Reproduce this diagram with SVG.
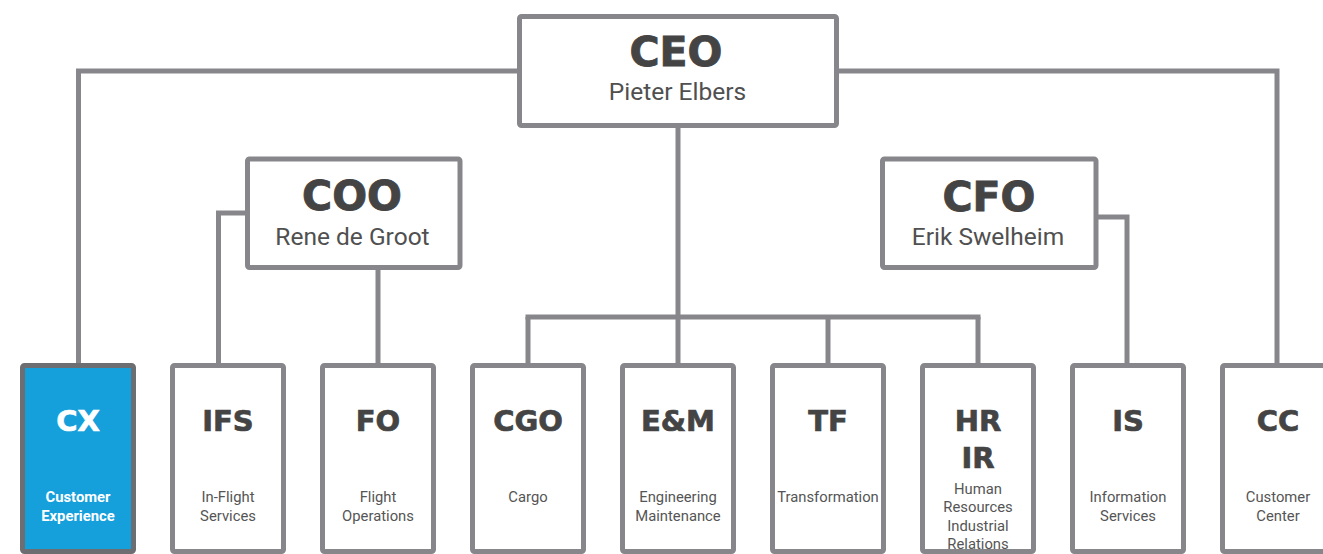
<svg xmlns="http://www.w3.org/2000/svg" width="1323" height="554" viewBox="0 0 1323 554">
<style>
.box{fill:#ffffff;stroke:#87878b;stroke-width:5}
.conn{fill:none;stroke:#87878b;stroke-width:5;stroke-linejoin:miter}
.h1{font-family:"DejaVu Sans",sans-serif;font-weight:bold;font-size:41px;fill:#444444;stroke:#444444;stroke-width:0.9;text-anchor:middle}
.h2{font-family:"DejaVu Sans",sans-serif;font-weight:bold;font-size:29px;fill:#444444;stroke:#444444;stroke-width:0.7;text-anchor:middle}
.s1{font-family:Roboto,"Liberation Sans",sans-serif;font-size:24.5px;fill:#505050;text-anchor:middle}
.s2{font-family:Roboto,"Liberation Sans",sans-serif;font-size:14.8px;fill:#555555;text-anchor:middle}
.w{fill:#ffffff;stroke:#ffffff}
.wt{fill:#ffffff}
.b{font-weight:bold}
</style>
<rect width="1323" height="554" fill="#ffffff"/>
<g id="connectors">
<polyline class="conn" points="519,71 78.5,71 78.5,366"/>
<polyline class="conn" points="837,71 1277,71 1277,366"/>
<line class="conn" x1="678" y1="126" x2="678" y2="366"/>
<line class="conn" x1="525.5" y1="317" x2="980.5" y2="317"/>
<line class="conn" x1="528" y1="317" x2="528" y2="366"/>
<line class="conn" x1="828" y1="317" x2="828" y2="366"/>
<line class="conn" x1="978" y1="317" x2="978" y2="366"/>
<polyline class="conn" points="248,213 218.5,213 218.5,366"/>
<line class="conn" x1="378" y1="267" x2="378" y2="366"/>
<polyline class="conn" points="1096,217 1127,217 1127,366"/>
</g>
<g id="ceo">
<rect class="box" x="519.5" y="16.5" width="317" height="109" rx="2"/>
<text class="h1" x="676" y="66">CEO</text>
<text class="s1" x="677.5" y="100">Pieter Elbers</text>
</g>
<g id="coo">
<rect class="box" x="247.5" y="159" width="212.5" height="108.5" rx="2"/>
<text class="h1" x="352" y="210">COO</text>
<text class="s1" x="352.5" y="245">Rene de Groot</text>
</g>
<g id="cfo">
<rect class="box" x="882.5" y="159" width="213.5" height="108.5" rx="2"/>
<text class="h1" x="989" y="211">CFO</text>
<text class="s1" x="988" y="245">Erik Swelheim</text>
</g>
<g id="cx">
<rect x="22.5" y="365.5" width="111" height="186" rx="2" fill="#15a0db" stroke="#6d6e71" stroke-width="5"/>
<text class="h2 w" x="78" y="431">CX</text>
<text class="s2 wt b" x="78" y="501.5">Customer</text>
<text class="s2 wt b" x="78" y="520.5">Experience</text>
</g>
<g id="ifs">
<rect class="box" x="172.5" y="365.5" width="111" height="186" rx="2"/>
<text class="h2" x="228" y="431">IFS</text>
<text class="s2" x="228" y="501.5">In-Flight</text>
<text class="s2" x="228" y="520.5">Services</text>
</g>
<g id="fo">
<rect class="box" x="322.5" y="365.5" width="111" height="186" rx="2"/>
<text class="h2" x="378" y="431">FO</text>
<text class="s2" x="378" y="501.5">Flight</text>
<text class="s2" x="378" y="520.5">Operations</text>
</g>
<g id="cgo">
<rect class="box" x="472.5" y="365.5" width="111" height="186" rx="2"/>
<text class="h2" x="528" y="431">CGO</text>
<text class="s2" x="528" y="501.5">Cargo</text>
</g>
<g id="em">
<rect class="box" x="622.5" y="365.5" width="111" height="186" rx="2"/>
<text class="h2" x="678" y="431">E&amp;M</text>
<text class="s2" x="678" y="501.5">Engineering</text>
<text class="s2" x="678" y="520.5">Maintenance</text>
</g>
<g id="tf">
<rect class="box" x="772.5" y="365.5" width="111" height="186" rx="2"/>
<text class="h2" x="828" y="431">TF</text>
<text class="s2" x="828" y="501.5">Transformation</text>
</g>
<g id="hr">
<rect class="box" x="922.5" y="365.5" width="111" height="186" rx="2"/>
<text class="h2" x="978" y="431">HR</text>
<text class="h2" x="978" y="468">IR</text>
<text class="s2" x="978" y="494">Human</text>
<text class="s2" x="978" y="512.3">Resources</text>
<text class="s2" x="978" y="530.6">Industrial</text>
<text class="s2" x="978" y="548.9">Relations</text>
</g>
<g id="is">
<rect class="box" x="1072.5" y="365.5" width="111" height="186" rx="2"/>
<text class="h2" x="1128" y="431">IS</text>
<text class="s2" x="1128" y="501.5">Information</text>
<text class="s2" x="1128" y="520.5">Services</text>
</g>
<g id="cc">
<rect class="box" x="1222.5" y="365.5" width="111" height="186" rx="2"/>
<text class="h2" x="1278" y="431">CC</text>
<text class="s2" x="1278" y="501.5">Customer</text>
<text class="s2" x="1278" y="520.5">Center</text>
</g>
</svg>
